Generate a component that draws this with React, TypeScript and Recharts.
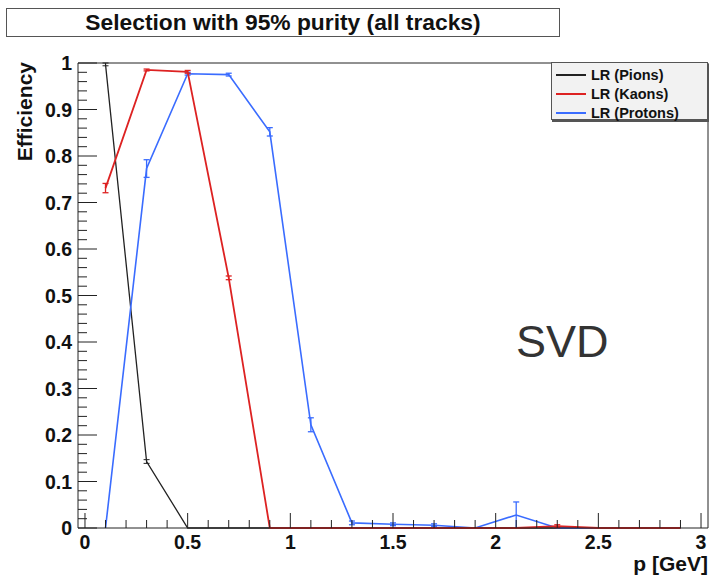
import React from 'react';
import { ComposedChart, Line, XAxis, YAxis, ErrorBar } from 'recharts';

// momentum bin centres [GeV]
const momentum = [0.1, 0.3, 0.5, 0.7, 0.9, 1.1, 1.3, 1.5, 1.7, 1.9, 2.1, 2.3, 2.5, 2.7, 2.9];
const pionEff = [0.997, 0.143, 0, 0, 0, 0, 0, 0, 0, 0, 0, 0, 0, 0, 0];
const pionErr = [0.003, 0.004, 0, 0, 0, 0, 0, 0, 0, 0, 0, 0, 0, 0, 0];
const kaonEff = [0.731, 0.985, 0.981, 0.538, 0, 0, 0, 0, 0, 0, 0, 0.004, 0, 0, 0];
const kaonErr = [0.01, 0.002, 0.003, 0.004, 0, 0, 0, 0, 0, 0, 0, 0.003, 0, 0, 0];
const protonEff = [0, 0.773, 0.977, 0.975, 0.852, 0.222, 0.011, 0.008, 0.006, 0, 0.028, 0, 0, 0, 0];
const protonErr = [0, 0.019, 0.003, 0.003, 0.009, 0.015, 0.004, 0.003, 0.003, 0, 0.028, 0, 0, 0, 0];

const xMajorLabels = ['0', '0.5', '1', '1.5', '2', '2.5', '3'];
const yMajorLabels = ['0', '0.1', '0.2', '0.3', '0.4', '0.5', '0.6', '0.7', '0.8', '0.9', '1'];

const X_MIN = -0.034;
const X_MAX = 3.034;

const xTicks: number[] = [];
for (let i = 0; i <= 30; i++) xTicks.push(i / 10);
const yTicks: number[] = [];
for (let i = 0; i <= 50; i++) yTicks.push(i / 50);

const COLORS = { pion: '#222222', kaon: '#dd2222', proton: '#3a6cff' };

const mk = (eff: number[], err: number[]) =>
  momentum.map((p, i) => ({ p, v: eff[i], e: err[i] }));

const pionData = mk(pionEff, pionErr);
const kaonData = mk(kaonEff, kaonErr);
const protonData = mk(protonEff, protonErr);

const FONT = '"Liberation Sans", Arial, Helvetica, sans-serif';

const XTick = (props: any) => {
  const { x, y, payload } = props;
  const v = payload.value as number;
  const idx = Math.round(v * 2);
  const major = Math.abs(v * 2 - idx) < 1e-6;
  return (
    <g>
      <line x1={x} x2={x} y1={y} y2={y - (major ? 15 : 8)} stroke="#222" strokeWidth={1} />
      {major && (
        <text x={x} y={y + 21} textAnchor="middle" fontFamily={FONT} fontWeight="bold" fontSize={19.5} fill="#111">
          {xMajorLabels[idx]}
        </text>
      )}
    </g>
  );
};

const YTick = (props: any) => {
  const { x, y, payload } = props;
  const v = payload.value as number;
  const idx = Math.round(v * 10);
  const major = Math.abs(v * 10 - idx) < 1e-6;
  return (
    <g>
      <line x1={x} x2={x + (major ? 19 : 9)} y1={y} y2={y} stroke="#222" strokeWidth={1} />
      {major && (
        <text x={x - 6} y={y + 7} textAnchor="end" fontFamily={FONT} fontWeight="bold" fontSize={19.5} fill="#111">
          {yMajorLabels[idx]}
        </text>
      )}
    </g>
  );
};

const legendItems = [
  { label: 'LR (Pions)', color: COLORS.pion },
  { label: 'LR (Kaons)', color: COLORS.kaon },
  { label: 'LR (Protons)', color: COLORS.proton },
];

export default function App() {
  return (
    <div style={{ position: 'absolute', left: 0, top: 0, width: 713, height: 576, background: '#fff', fontFamily: FONT }}>
      <ComposedChart
        width={713}
        height={576}
        margin={{ left: 77, top: 62, right: 4, bottom: 47 }}
      >
        <XAxis
          type="number"
          dataKey="p"
          domain={[X_MIN, X_MAX]}
          ticks={xTicks}
          interval={0}
          tick={<XTick />}
          tickLine={false}
          axisLine={{ stroke: '#222' }}
          tickSize={0}
          tickMargin={0}
          height={1}
        />
        <XAxis
          xAxisId="top"
          orientation="top"
          type="number"
          domain={[X_MIN, X_MAX]}
          tick={false}
          tickLine={false}
          axisLine={{ stroke: '#222' }}
          height={1}
        />
        <YAxis
          type="number"
          domain={[0, 1]}
          ticks={yTicks}
          interval={0}
          tick={<YTick />}
          tickLine={false}
          axisLine={{ stroke: '#222' }}
          tickSize={0}
          tickMargin={0}
          width={1}
        />
        <YAxis
          yAxisId="right"
          orientation="right"
          type="number"
          domain={[0, 1]}
          tick={false}
          tickLine={false}
          axisLine={{ stroke: '#222' }}
          width={1}
        />
        <Line data={pionData} dataKey="v" type="linear" stroke={COLORS.pion} strokeWidth={1.3} dot={false} isAnimationActive={false}>
          <ErrorBar dataKey="e" width={3} stroke={COLORS.pion} strokeWidth={1} />
        </Line>
        <Line data={protonData} dataKey="v" type="linear" stroke={COLORS.proton} strokeWidth={1.6} dot={false} isAnimationActive={false}>
          <ErrorBar dataKey="e" width={3} stroke={COLORS.proton} strokeWidth={1.3} />
        </Line>
        <Line data={kaonData} dataKey="v" type="linear" stroke={COLORS.kaon} strokeWidth={1.8} dot={false} isAnimationActive={false}>
          <ErrorBar dataKey="e" width={3} stroke={COLORS.kaon} strokeWidth={1.3} />
        </Line>
      </ComposedChart>

      {/* title box */}
      <div
        style={{
          position: 'absolute', left: 6, top: 8, width: 554, height: 29, boxSizing: 'border-box',
          border: '1px solid #555', background: '#fff', textAlign: 'center',
          fontWeight: 'bold', fontSize: 22.8, lineHeight: '27px', color: '#111',
        }}
      >
        Selection with 95% purity (all tracks)
      </div>

      {/* legend */}
      <div
        style={{
          position: 'absolute', left: 551, top: 62, width: 157, height: 58, boxSizing: 'border-box',
          border: '1px solid #555', background: '#f2f2f2', boxShadow: '1px 2px 0 #555',
        }}
      >
        {legendItems.map((it, i) => (
          <div key={it.label} style={{ position: 'absolute', left: 4, top: 2 + i * 19, height: 19, display: 'flex', alignItems: 'center' }}>
            <div style={{ width: 30, height: 2, background: it.color }} />
            <span style={{ marginLeft: 5, fontWeight: 'bold', fontSize: 14.5, color: '#111' }}>{it.label}</span>
          </div>
        ))}
      </div>

      {/* axis titles */}
      <div
        style={{
          position: 'absolute', left: 25, top: 62, transformOrigin: '0 0',
          transform: 'rotate(-90deg) translate(-100%, -50%)', whiteSpace: 'nowrap',
          fontWeight: 'bold', fontSize: 21, lineHeight: '24px', color: '#111',
        }}
      >
        Efficiency
      </div>
      <div
        style={{
          position: 'absolute', right: 5, top: 552, whiteSpace: 'nowrap',
          fontWeight: 'bold', fontSize: 21, lineHeight: '24px', color: '#111',
        }}
      >
        p [GeV]
      </div>

      {/* detector label */}
      <div style={{ position: 'absolute', left: 516, top: 316, fontSize: 45, lineHeight: '52px', color: '#333' }}>SVD</div>
    </div>
  );
}
